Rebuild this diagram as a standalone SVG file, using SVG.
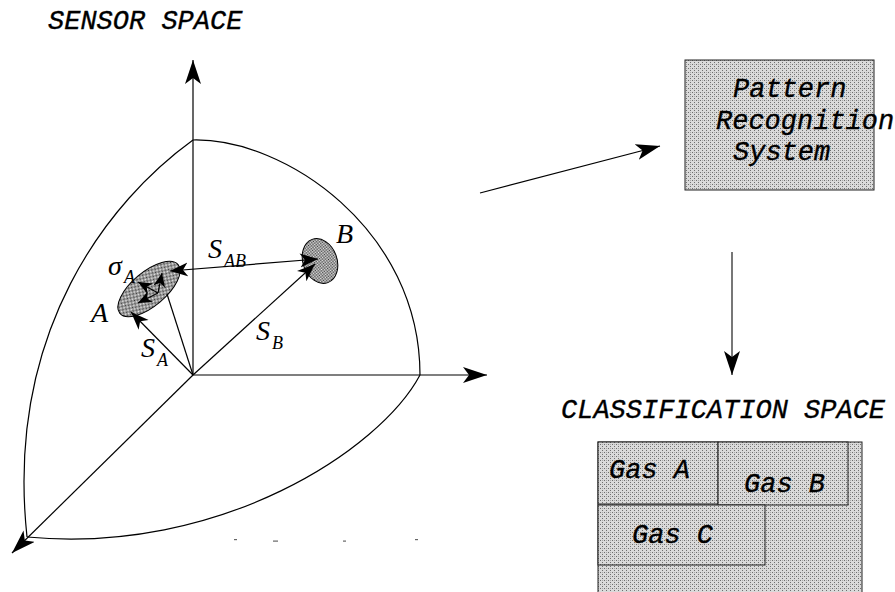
<svg xmlns="http://www.w3.org/2000/svg" width="895" height="592" viewBox="0 0 895 592">
<style>
.ln{fill:none;stroke:#000;stroke-width:1.2}
.mono{font-family:"Liberation Mono","DejaVu Sans Mono",monospace;font-style:italic;font-size:27px;fill:#000;stroke:#000;stroke-width:0.35}
.math{font-family:"Liberation Serif","Times New Roman",serif;font-style:italic;font-size:28px;fill:#000}
.sub{font-family:"Liberation Serif","Times New Roman",serif;font-style:italic;font-size:18px;fill:#000}
.box{fill:url(#stip);stroke:#222;stroke-width:1}
</style>
<defs>
<pattern id="stip" width="4" height="4" patternUnits="userSpaceOnUse">
<rect width="4" height="4" fill="#dadada"/>
<rect x="0" y="0" width="1" height="1" fill="#6e6e6e"/>
<rect x="2" y="2" width="1" height="1" fill="#6e6e6e"/>
<rect x="2" y="0" width="1" height="1" fill="#a8a8a8"/>
</pattern>
<pattern id="dots" width="2" height="2" patternUnits="userSpaceOnUse">
<rect width="2" height="2" fill="#eeeeee"/>
<rect x="0" y="0" width="1" height="1" fill="#333"/>
<rect x="1" y="1" width="1" height="1" fill="#555"/>
</pattern>
<marker id="ah" markerWidth="26" markerHeight="18" refX="24" refY="8" orient="auto" markerUnits="userSpaceOnUse">
<path d="M0,0 L24,8 L0,16 L6,8 Z" fill="#000"/>
</marker>
<marker id="ahm" markerWidth="20" markerHeight="16" refX="18" refY="7" orient="auto-start-reverse" markerUnits="userSpaceOnUse">
<path d="M0,0 L18,7 L0,14 L5,7 Z" fill="#000"/>
</marker>
<marker id="ahs" markerWidth="16" markerHeight="14" refX="14" refY="6" orient="auto" markerUnits="userSpaceOnUse">
<path d="M0,0 L14,6 L0,12 L4,6 Z" fill="#000"/>
</marker>
</defs>
<rect width="895" height="592" fill="#fff"/>

<g id="sensor-space-title">
<text class="mono" x="48" y="29">SENSOR SPACE</text>
</g>

<g id="sphere">
<path class="ln" d="M193,140 C110,200 5,330 27,537"/>
<path class="ln" d="M193,140 C285,138 420,230 420,375"/>
<path class="ln" d="M420,375 C380,450 220,555 27,537"/>
<g fill="#666">
<rect x="234" y="539" width="3" height="1.2"/>
<rect x="273" y="540.5" width="5" height="1.2"/>
<rect x="343" y="540.5" width="3" height="1.2"/>
<rect x="415" y="539" width="3" height="1.2"/>
</g>
</g>

<g id="axes">
<line class="ln" x1="193" y1="375" x2="193" y2="60" marker-end="url(#ah)"/>
<line class="ln" x1="193" y1="375" x2="487" y2="375" marker-end="url(#ah)"/>
<line class="ln" x1="193" y1="375" x2="12" y2="553" marker-end="url(#ah)"/>
</g>

<g id="cluster-A">
<ellipse cx="149" cy="289" rx="38" ry="17" transform="rotate(-40 149 289)" fill="url(#dots)" stroke="#000" stroke-width="1"/>
<line class="ln" x1="158" y1="293" x2="138" y2="282" marker-end="url(#ahs)"/>
<line class="ln" x1="158" y1="293" x2="162" y2="273" marker-end="url(#ahs)"/>
<line class="ln" x1="158" y1="293" x2="138" y2="303" marker-end="url(#ahs)"/>
<text class="math" x="108" y="275">σ</text>
<text class="sub" x="124" y="283">A</text>
<text class="math" x="91" y="322">A</text>
</g>

<g id="cluster-B">
<ellipse cx="320" cy="261" rx="17" ry="23" transform="rotate(-20 320 261)" fill="url(#dots)" stroke="#000" stroke-width="1"/>
<text class="math" x="336" y="243">B</text>
</g>

<g id="vectors">
<line class="ln" x1="193" y1="375" x2="131" y2="312" marker-end="url(#ahm)"/>
<line class="ln" x1="193" y1="375" x2="167" y2="294"/>
<line class="ln" x1="193" y1="375" x2="315" y2="264" marker-end="url(#ahm)"/>
<line class="ln" x1="170" y1="271" x2="318" y2="259" marker-start="url(#ahm)" marker-end="url(#ahm)"/>
<text class="math" x="141" y="357">S</text>
<text class="sub" x="157" y="366">A</text>
<text class="math" x="208" y="258">S</text>
<text class="sub" x="224" y="267">AB</text>
<text class="math" x="256" y="340">S</text>
<text class="sub" x="272" y="349">B</text>
</g>

<g id="pattern-recognition-system">
<rect class="box" x="685" y="60" width="189" height="130"/>
<text class="mono" x="733" y="97">Pattern</text>
<text class="mono" x="716" y="129">Recognition</text>
<text class="mono" x="733" y="160">System</text>
</g>

<g id="classification-space-title">
<text class="mono" x="561" y="418">CLASSIFICATION SPACE</text>
</g>

<g id="classification-space">
<rect class="box" x="598" y="442" width="264" height="160"/>
<g id="gas-a">
<rect class="box" x="598" y="442" width="120" height="62"/>
<text class="mono" x="609" y="478">Gas A</text>
</g>
<g id="gas-b">
<rect class="box" x="718" y="442" width="130" height="63"/>
<text class="mono" x="744" y="492">Gas B</text>
</g>
<g id="gas-c">
<rect class="box" x="598" y="505" width="167" height="60"/>
<text class="mono" x="632" y="543">Gas C</text>
</g>
</g>

<g id="connectors">
<line class="ln" x1="480" y1="193" x2="660" y2="146" marker-end="url(#ah)"/>
<line x1="732" y1="252" x2="732" y2="375" stroke="#555" stroke-width="1.6" marker-end="url(#ah)"/>
</g>
</svg>
